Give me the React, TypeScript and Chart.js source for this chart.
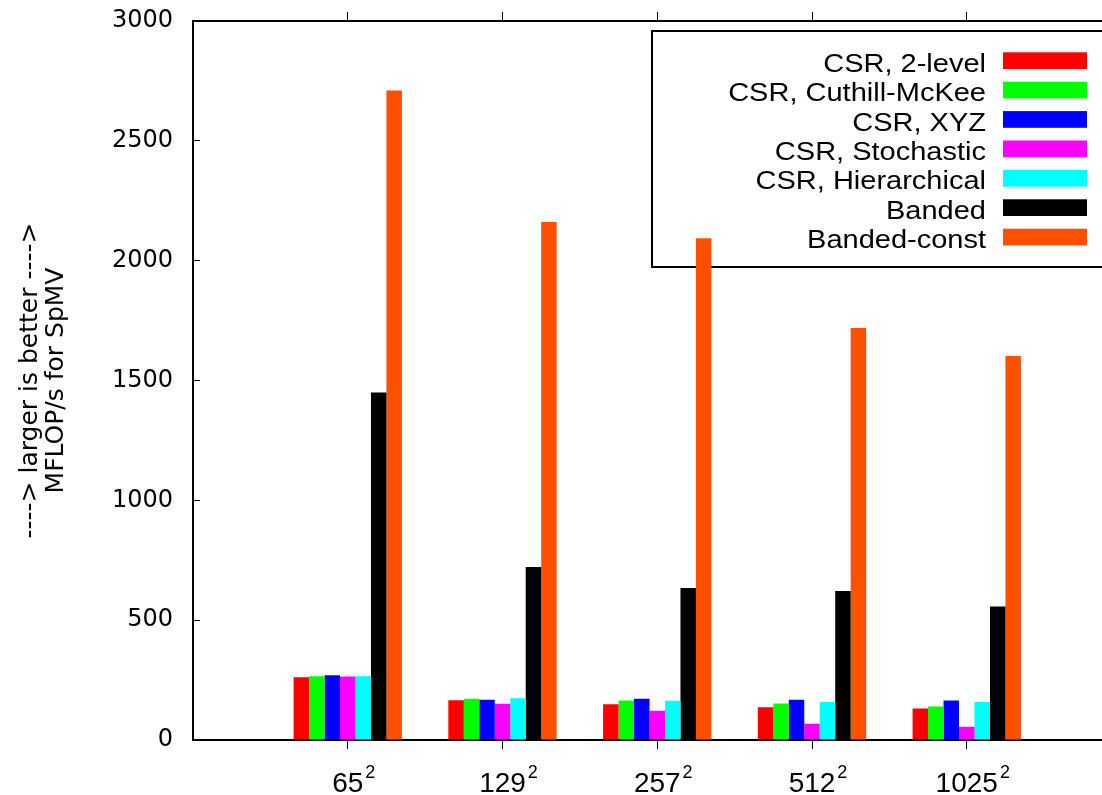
import React, { useEffect, useRef } from 'react';
import { Chart, registerables } from 'chart.js';

Chart.register(...registerables);

// ---- data ----
const categories = ['65²', '129²', '257²', '512²', '1025²'];
const seriesLabels = [
  'CSR, 2-level',
  'CSR, Cuthill-McKee',
  'CSR, XYZ',
  'CSR, Stochastic',
  'CSR, Hierarchical',
  'Banded',
  'Banded-const',
];
const seriesColors = ['#ff0000', '#00ff00', '#0000ff', '#ff00ff', '#00ffff', '#000000', '#ff5000'];
const csr2Level = [262, 166, 149, 137, 131];
const csrCuthillMcKee = [266, 172, 165, 152, 140];
const csrXYZ = [270, 168, 172, 168, 165];
const csrStochastic = [265, 151, 122, 68, 55];
const csrHierarchical = [266, 174, 164, 159, 159];
const banded = [1450, 722, 634, 622, 557];
const bandedConst = [2710, 2161, 2094, 1719, 1602];
const yTickValues = [0, 500, 1000, 1500, 2000, 2500, 3000];
const yTitle = ['----> larger is better ---->', 'MFLOP/s for SpMV'];

const seriesValues = [csr2Level, csrCuthillMcKee, csrXYZ, csrStochastic, csrHierarchical, banded, bandedConst];

const CANVAS_W = 1140;
const CANVAS_H = 795;
const LABEL_FONT = '"Liberation Sans", Arial, sans-serif';

const boxLegend = {
  id: 'boxLegend',
  beforeDatasetsDraw(chart: any) {
    const ctx = chart.ctx;
    ctx.save();
    ctx.strokeStyle = '#000';
    ctx.lineWidth = 2;
    ctx.strokeRect(652, 31, 460, 236);
    chart.data.datasets.forEach((ds: any, i: number) => {
      const top = 52.3 + 29.4 * i;
      ctx.fillStyle = ds.backgroundColor;
      ctx.fillRect(1003, top, 84, 16.7);
      ctx.save();
      ctx.translate(986, top + 19.4);
      ctx.scale(1.16, 1);
      ctx.font = `25px ${LABEL_FONT}`;
      ctx.textAlign = 'right';
      ctx.textBaseline = 'alphabetic';
      ctx.fillStyle = '#000';
      ctx.fillText(ds.label, 0, 0);
      ctx.restore();
    });
    ctx.restore();
  },
};

// x tick labels with a real superscript exponent, placed on the x scale's ticks
const supLabels = {
  id: 'supLabels',
  afterDraw(chart: any) {
    const ctx = chart.ctx;
    const xs = chart.scales.x;
    ctx.save();
    ctx.fillStyle = '#000';
    ctx.textBaseline = 'alphabetic';
    categories.forEach((lab, i) => {
      const hasSup = lab.endsWith('²');
      const base = hasSup ? lab.slice(0, -1) : lab;
      const px = xs.getPixelForValue(i);
      const baseline = xs.top + 52;
      ctx.font = `28px ${LABEL_FONT}`;
      ctx.textAlign = 'center';
      ctx.fillText(base, px, baseline);
      if (hasSup) {
        const w = ctx.measureText(base).width;
        ctx.font = `18px ${LABEL_FONT}`;
        ctx.textAlign = 'left';
        ctx.fillText('2', px + w / 2 + 2, baseline - 14);
      }
    });
    ctx.restore();
  },
};

const catTicks = (scale: any) => {
  scale.ticks = categories.map((_, i) => ({ value: i }));
};

export default function App() {
  const ref = useRef<HTMLCanvasElement>(null);

  useEffect(() => {
    if (!ref.current) return;
    const datasets = seriesLabels.map((label, s) => ({
      label,
      backgroundColor: seriesColors[s],
      borderWidth: 0,
      data: seriesValues[s].map((v, i) => ({ x: i, y: v })),
      categoryPercentage: 0.7,
      barPercentage: 1.0,
    }));

    const chart = new Chart(ref.current, {
      type: 'bar',
      data: { datasets },
      plugins: [boxLegend, supLabels],
      options: {
        responsive: false,
        animation: false,
        devicePixelRatio: 1,
        layout: { padding: { left: 0, top: 0, right: 18.5, bottom: 0 } },
        plugins: {
          legend: { display: false },
          tooltip: { enabled: false },
        },
        scales: {
          x: {
            type: 'linear',
            position: 'bottom',
            min: -1,
            max: 5,
            offset: false,
            z: 1,
            grid: {
              offset: false,
              drawOnChartArea: false,
              drawTicks: true,
              tickLength: 9,
              color: '#000',
              lineWidth: 1,
            },
            border: { display: true, color: '#000', width: 2 },
            ticks: { display: false },
            afterBuildTicks: catTicks,
            afterFit: (s: any) => {
              s.height = 55;
              s.paddingLeft = 0;
              s.paddingRight = 0;
            },
          },
          x2: {
            type: 'linear',
            position: 'top',
            min: -1,
            max: 5,
            offset: false,
            z: 1,
            grid: {
              offset: false,
              drawOnChartArea: false,
              drawTicks: true,
              tickLength: 9,
              color: '#000',
              lineWidth: 1,
            },
            border: { display: true, color: '#000', width: 2 },
            ticks: { display: false },
            afterBuildTicks: catTicks,
            afterFit: (s: any) => {
              s.height = 21;
              s.paddingLeft = 0;
              s.paddingRight = 0;
            },
          },
          y: {
            type: 'linear',
            position: 'left',
            min: 0,
            max: 3000,
            grid: {
              drawOnChartArea: false,
              drawTicks: true,
              tickLength: -7,
              color: '#000',
              lineWidth: 1,
            },
            border: { display: true, color: '#000', width: 2 },
            ticks: {
              color: '#000',
              font: { family: '"DejaVu Sans", sans-serif', size: 24 },
              padding: 27,
              stepSize: 500,
              callback: (v: any) => String(v),
            },
            afterBuildTicks: (s: any) => {
              s.ticks = yTickValues.map((v) => ({ value: v }));
            },
            title: {
              display: true,
              text: yTitle,
              color: '#000',
              font: { family: '"DejaVu Sans", sans-serif', size: 25, lineHeight: 1.04 },
              padding: { top: 17, bottom: 0 },
            },
            afterFit: (s: any) => {
              s.width = 193;
              s.paddingTop = 0;
              s.paddingBottom = 0;
            },
          },
        },
      } as any,
    });
    return () => chart.destroy();
  }, []);

  return (
    <div
      style={{
        position: 'fixed',
        left: 0,
        top: 0,
        width: 1102,
        height: 795,
        overflow: 'hidden',
        background: '#fff',
      }}
    >
      <canvas ref={ref} width={CANVAS_W} height={CANVAS_H} style={{ width: CANVAS_W, height: CANVAS_H, display: 'block' }} />
    </div>
  );
}
